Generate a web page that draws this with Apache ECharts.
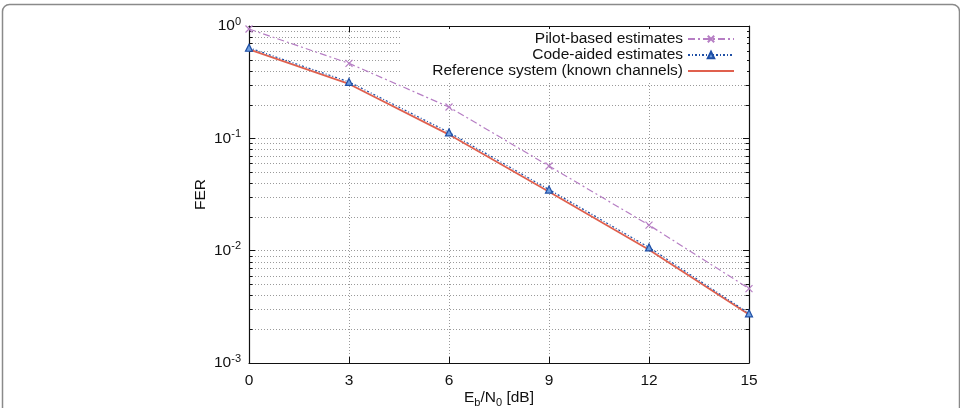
<!DOCTYPE html>
<html>
<head>
<meta charset="utf-8">
<script src="https://cdn.jsdelivr.net/npm/echarts@6/dist/echarts.min.js"></script>
<style>
html,body{margin:0;padding:0;background:#fff;}
#chart{width:960px;height:408px;}
</style>
</head>
<body>
<div id="chart"></div>
<script>
// ---- data ----
const ebn0 = [0, 3, 6, 9, 12, 15];
const pilotFER = [0.94, 0.465, 0.19, 0.0567, 0.0169, 0.0046];
const codeAidedFER = [0.64, 0.318, 0.113, 0.035, 0.0107, 0.00277];
const referenceFER = [0.62, 0.305, 0.108, 0.0335, 0.0102, 0.0027];
const xTicks = [0, 3, 6, 9, 12, 15];
const yMinorTicks = [0.002,0.003,0.004,0.005,0.006,0.007,0.008,0.009,
                     0.02,0.03,0.04,0.05,0.06,0.07,0.08,0.09,
                     0.2,0.3,0.4,0.5,0.6,0.7,0.8,0.9];
const seriesNames = ['Pilot-based estimates', 'Code-aided estimates', 'Reference system (known channels)'];

const FONT = 'Liberation Sans, Arial, sans-serif';
const FS = 15.5;
const pairs = (ys) => ebn0.map((x, i) => [x, ys[i]]);
const gridDot = { color: '#9a9a9a', width: 1, type: [1, 2] };

const chart = echarts.init(document.getElementById('chart'), null, { renderer: 'canvas' });

const supLabel = (v) => '{b|10}{s|' + Math.round(Math.log10(v)) + '}';
const supRich = {
  b: { fontSize: FS, lineHeight: 20, verticalAlign: 'middle', color: '#111', fontFamily: FONT },
  s: { fontSize: 11, lineHeight: 10, verticalAlign: 'top', color: '#111', fontFamily: FONT }
};

const option = {
  animation: false,
  textStyle: { fontFamily: FONT },
  graphic: [{
    type: 'rect', left: 0, top: 2, z: -10, silent: true,
    shape: { x: 0, y: 0, width: 957, height: 440, r: 7 },
    style: { fill: 'none', stroke: '#8a8a8a', lineWidth: 1.5 }
  }],
  grid: { left: 249, right: 211, top: 26, bottom: 45, containLabel: false, outerBoundsMode: 'none' },
  legend: {
    data: [
      { name: seriesNames[0] },
      { name: seriesNames[1] },
      { name: seriesNames[2], itemStyle: { opacity: 0 } }
    ],
    orient: 'vertical',
    right: 213,
    top: 29,
    align: 'right',
    itemWidth: 46,
    itemHeight: 8,
    itemGap: 0,
    backgroundColor: '#fff',
    padding: [2, 12, 4, 32],
    textStyle: { fontSize: FS, lineHeight: 15, color: '#111', fontFamily: FONT },
    selectedMode: false
  },
  xAxis: [{
    type: 'value', min: 0, max: 15, interval: 3,
    name: '{n|E}{sub|b}{n|/N}{sub|0}{n| [dB]}',
    nameLocation: 'middle', nameGap: 25, nameMoveOverlap: false,
    nameTextStyle: {
      rich: {
        n: { fontSize: FS, lineHeight: 20, verticalAlign: 'middle', color: '#111', fontFamily: FONT },
        sub: { fontSize: 11, lineHeight: 10, verticalAlign: 'bottom', color: '#111', fontFamily: FONT }
      }
    },
    axisLine: { show: true, lineStyle: { color: '#111', width: 1.2 } },
    axisTick: { show: true, inside: true, length: 6, lineStyle: { color: '#111' } },
    axisLabel: { fontSize: FS, color: '#111', margin: 10, fontFamily: FONT },
    splitLine: { show: true, lineStyle: gridDot }
  }, {
    type: 'value', min: 0, max: 15, interval: 3, position: 'top',
    axisLine: { show: true, onZero: false, lineStyle: { color: '#111', width: 1.2 } },
    axisTick: { show: true, inside: true, length: 6, lineStyle: { color: '#111' } },
    axisLabel: { show: false },
    splitLine: { show: false }
  }],
  yAxis: [{
    type: 'log', logBase: 10, min: 0.001, max: 1,
    name: 'FER', nameLocation: 'middle', nameGap: 40, nameMoveOverlap: false,
    nameTextStyle: { fontSize: FS, color: '#111', fontFamily: FONT },
    axisLine: { show: true, lineStyle: { color: '#111', width: 1.2 } },
    axisTick: { show: true, inside: true, length: 6, lineStyle: { color: '#111' } },
    axisLabel: { margin: 8, formatter: supLabel, rich: supRich },
    splitLine: { show: true, lineStyle: gridDot }
  }, {
    type: 'log', logBase: 10, min: 0.001, max: 1, position: 'right',
    axisLine: { show: true, onZero: false, lineStyle: { color: '#111', width: 1.2 } },
    axisTick: { show: true, inside: true, length: 6, lineStyle: { color: '#111' } },
    axisLabel: { show: false },
    splitLine: { show: false }
  }],
  series: [
    {
      type: 'custom', name: 'minor', silent: true, z: 1,
      data: yMinorTicks.map(v => [0, v]),
      encode: { x: 0, y: 1 },
      renderItem: (params, api) => {
        const v = api.value(1);
        const p0 = api.coord([0, v]);
        const p1 = api.coord([15, v]);
        const y = Math.round(p0[1]) + 0.5;
        return {
          type: 'group',
          children: [
            { type: 'line', shape: { x1: p0[0], y1: y, x2: p1[0], y2: y },
              style: { stroke: '#9a9a9a', lineWidth: 1, lineDash: [1, 2] } },
            { type: 'line', shape: { x1: p0[0], y1: y, x2: p0[0] + 3.5, y2: y },
              style: { stroke: '#111', lineWidth: 1 } },
            { type: 'line', shape: { x1: p1[0] - 3.5, y1: y, x2: p1[0], y2: y },
              style: { stroke: '#111', lineWidth: 1 } }
          ]
        };
      }
    },
    {
      name: seriesNames[0], type: 'line', data: pairs(pilotFER), z: 3,
      symbol: 'path://M0,0L10,10M10,0L0,10', symbolSize: 7,
      lineStyle: { color: '#b67ec4', width: 1.2, type: [7, 3, 2, 3] },
      itemStyle: { color: 'rgba(0,0,0,0)', borderColor: '#b67ec4', borderWidth: 1.2 }
    },
    {
      name: seriesNames[1], type: 'line', data: pairs(codeAidedFER), z: 4,
      symbol: 'triangle', symbolSize: 7,
      lineStyle: { color: '#1f4fa6', width: 1.2, type: [2, 2, 1, 2] },
      itemStyle: { color: '#6f9fe0', borderColor: '#1f4fa6', borderWidth: 1.2 }
    },
    {
      name: seriesNames[2], type: 'line', data: pairs(referenceFER), z: 3,
      symbol: 'none', showSymbol: false,
      lineStyle: { color: '#e0604e', width: 1.8 },
      itemStyle: { color: '#e0604e' }
    }
  ]
};
chart.setOption(option);
</script>
</body>
</html>
